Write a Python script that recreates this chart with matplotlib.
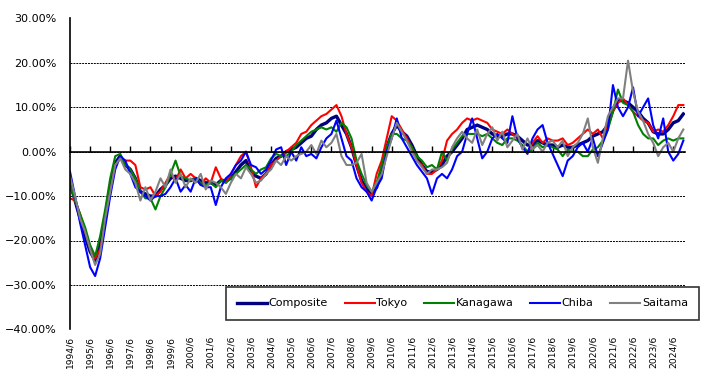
import numpy as np
import matplotlib.pyplot as plt

# quarterly readings (%), from 1994/6 to 2024/12, every 3 months
composite = [-7, -11, -15, -19, -22.5, -24.5, -21, -15, -8, -2.5, -1, -3, -4, -6, -9, -9.5,
             -10, -10, -8.5, -7.5, -6, -5.5, -6, -6.5, -6.5, -6, -6.5, -7, -7, -7.5, -6.5, -6.5,
             -6, -4.5, -3, -2, -4.5, -5.5, -6, -5, -3, -1.5, -1, 0, 0.5, 1, 2, 3,
             3.5, 5, 6, 6.5, 7.5, 8, 6, 4, 1, -3, -6.5, -8.5, -9.5, -8, -4, 1,
             4, 6, 4.5, 3.5, 1.5, -1, -3, -4.5, -4.5, -4, -3, -1, 0, 1.5, 3, 5,
             5.5, 6, 5.5, 5, 4, 3.5, 3.5, 4, 4, 3.5, 2.5, 1.5, 1.5, 2.5, 2, 1.5,
             1.5, 1, 1.5, 1, 1, 1.5, 2, 2.5, 3.5, 4, 4.5, 6, 9.5, 11.5, 11.5, 11,
             10, 9, 7.5, 6.5, 4.5, 4, 4, 5, 6.5, 7, 8.5]
tokyo = [-10.5, -11, -14, -18, -21.5, -24, -22, -16, -9, -3, -1.5, -2, -2, -3, -8, -8.5,
         -8, -10, -9, -7, -5, -6.5, -4, -6, -5, -6, -7.5, -6, -7, -3.5, -6, -7,
         -5, -3, -1, 0, -3.5, -8, -6, -5, -3, -2, -1, 0, 1, 2, 4, 4.5,
         6, 7, 8, 8.5, 9.5, 10.5, 8, 4, 1, -3, -7, -9, -10, -5, -2, 3,
         8, 7, 5, 3, 1, -2, -3, -5, -5, -4, -2, 2.5, 4, 5, 6.5, 7.5,
         7, 7.5, 7, 6.5, 5, 4.5, 4, 5, 4, 3, 1, 0, 2, 3.5, 2, 3,
         2.5, 2.5, 3, 1.5, 2, 3, 4, 5, 4, 5, 3, 6, 9, 11, 12, 10.5,
         9, 8, 7, 6.5, 4.5, 5, 4.5, 6, 8, 10.5, 10.5]
kanagawa = [-7.5, -11, -14, -17, -21, -23.5, -19, -13, -6, -1, -0.5, -3, -4, -6, -9, -10.5,
            -10.5, -13, -10, -8, -5, -2, -5.5, -6, -6.5, -6, -7, -7.5, -7, -8, -6.5, -7,
            -6, -5, -4, -3, -4, -5, -4, -3.5, -1.5, -0.5, -1, -1, 0, 1.5, 2.5, 3.5,
            4.5, 5, 5.5, 5, 5.5, 4.5, 6.5, 5.5, 3, -2, -5, -7.5, -9, -7, -3, 1,
            4, 4, 3, 2.5, 1, -1, -2, -3.5, -3, -4, 0, -2, 0.5, 2, 3.5, 4,
            4, 4, 3.5, 4, 3, 2, 1.5, 3, 3, 2.5, 1.5, 0, 0.5, 2, 1, 1.5,
            1, 0.5, -1, 0.5, 0, 0, -1, -1, 0.5, 1, 2.5, 5, 9, 14, 11, 10.5,
            9, 6, 4, 3, 3, 1.5, 2.5, 3, 2.5, 3, 3]
chiba = [-4.5, -10, -16, -21, -26, -28, -24, -17, -10, -4, -1, -2, -5, -8, -9, -10,
         -11, -10, -10, -9.5, -8, -6, -9, -7.5, -9, -6, -7.5, -8, -8, -12, -8, -6,
         -5, -3, -2, 0, -3, -3.5, -5, -4, -2, 0.5, 1, -3, 0, -2, 1, -1,
         -0.5, -1.5, 1, 3, 4, 7, 3, -1, -2, -6, -8, -9, -11, -8, -6, 0,
         3, 7.5, 3, 1, -1, -3, -4.5, -6, -9.5, -6, -5, -6, -4, -1, 0, 4,
         7.5, 3, -1.5, 0, 3, 4, 3, 2, 8, 3, 1, -0.5, 3, 5, 6, 2,
         -0.5, -3, -5.5, -2, -1, 1, 2, 0, 3, -1, 2, 5, 15, 10, 8, 10,
         14.5, 8, 10, 12, 6, 3, 7.5, 0, -2, -0.5, 2.5]
saitama = [-5.5, -10, -15, -18, -22, -25.5, -23, -15, -9, -3, -1.5, -4, -5, -7, -11, -8,
           -11, -9, -6, -8, -4, -7, -5, -8, -6, -7, -5, -8.5, -6.5, -7, -8, -9.5,
           -7, -5, -6, -3.5, -5, -7, -6.5, -5, -4, -2, -3, -1, -2, -1, -0.5, 0,
           1.5, -0.5, 2.5, 1, 2, 4, -1, -3, -3, -2.5, -0.5, -7, -9, -7, -5, -1,
           3, 6.5, 4.5, 2.5, 0, -2, -3.5, -5, -4, -4, -3.5, -2.5, 1, 3, 4.5, 3,
           2, 5, 1.5, 4, 5.5, 2.5, 4.5, 1, 2.5, 4, 0.5, 3, 0.5, 1.5, 0, 2,
           2.5, 1, 2.5, -1, 1, 2, 4, 7.5, 1, -2.5, 3, 8, 10, 12, 12, 20.5,
           13.5, 9, 7, 4, 2, -1, 1, 2, 0, 3, 5]

series_names = ["Composite", "Tokyo", "Kanagawa", "Chiba", "Saitama"]
series_colors = ["#000080", "#FF0000", "#008000", "#0000FF", "#808080"]
series_widths = [2.4, 1.5, 1.5, 1.5, 1.5]
tick_labels = [f"{y}/6" for y in range(1994, 2025)]

months = np.arange(len(composite)) * 3

fig = plt.figure(figsize=(7.02, 3.77), dpi=100)
ax = fig.add_axes([70 / 702, 1 - 329.3 / 377, 615 / 702, 310.8 / 377])

# axis line through zero; set before ticks because it resets them
ax.spines["bottom"].set_position(("data", 0))
ax.spines["bottom"].set_linewidth(1.2)
ax.spines["left"].set_linewidth(1.2)
ax.spines["top"].set_visible(False)
ax.spines["right"].set_visible(False)

lines = []
for vals, name, col, lw in zip([composite, tokyo, kanagawa, chiba, saitama],
                               series_names, series_colors, series_widths):
    ln, = ax.plot(months, vals, color=col, lw=lw, label=name)
    lines.append(ln)

ax.set_xlim(0, 367)
ax.set_ylim(-40, 30)
ax.set_yticks(np.arange(-40, 31, 10))
ax.set_yticklabels([f"{v:.2f}%".replace("-", "\u2212") for v in np.arange(-40, 31, 10)],
                   fontsize=8)
ax.tick_params(axis="y", length=0, pad=9.5)
ax.yaxis.grid(True, color="black", linestyle=(0, (2, 1)), linewidth=0.7)
ax.set_axisbelow(True)

ax.set_xticks(np.arange(0, 361, 12))
ax.set_xticklabels(tick_labels, rotation=90, fontsize=6.6, va="top", ha="center")
ax.tick_params(axis="x", direction="in", length=4, width=1, pad=132.5)

leg = fig.legend(handles=lines, loc="center", ncol=5,
                 bbox_to_anchor=(226 / 702, 1 - 321 / 377, 473 / 702, 35 / 377),
                 mode="expand", borderaxespad=0, fontsize=8, handlelength=2.7,
                 handletextpad=0.15, frameon=True, fancybox=False, edgecolor="black",
                 borderpad=1.0, columnspacing=1.0)
leg.get_frame().set_linewidth(1.2)

fig.savefig("out.png", dpi=100)
